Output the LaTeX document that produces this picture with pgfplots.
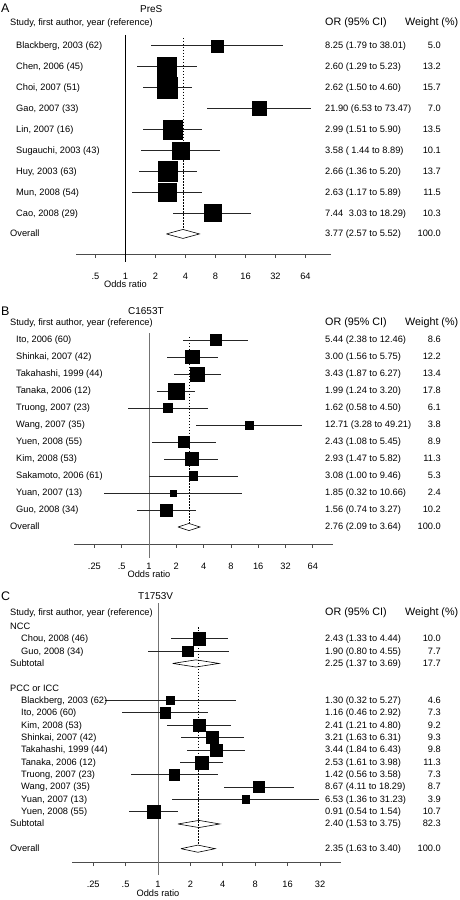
\documentclass[border=0pt]{standalone}
\usepackage{fontspec}
\setmainfont{Liberation Sans}
\usepackage{pgfplots}
\usepackage{pgfplotstable}
\pgfplotsset{compat=1.18}

% ---------- data: row, OR, lower, upper, weight ----------
\pgfplotstableread{
r or lo hi w
1 8.25 1.79 38.01 5.0
2 2.60 1.29 5.23 13.2
3 2.62 1.50 4.60 15.7
4 21.90 6.53 73.47 7.0
5 2.99 1.51 5.90 13.5
6 3.58 1.44 8.89 10.1
7 2.66 1.36 5.20 13.7
8 2.63 1.17 5.89 11.5
9 7.44 3.03 18.29 10.3
}\dataA
\pgfplotstableread{
x y
2.57 10
3.77 9.785
5.52 10
3.77 10.215
2.57 10
}\diaA

\pgfplotstableread{
r or lo hi w
1 5.44 2.38 12.46 8.6
2 3.00 1.56 5.75 12.2
3 3.43 1.87 6.27 13.4
4 1.99 1.24 3.20 17.8
5 1.62 0.58 4.50 6.1
6 12.71 3.28 49.21 3.8
7 2.43 1.08 5.45 8.9
8 2.93 1.47 5.82 11.3
9 3.08 1.00 9.46 5.3
10 1.85 0.32 10.66 2.4
11 1.56 0.74 3.27 10.2
}\dataB
\pgfplotstableread{
x y
2.09 12
2.76 11.79
3.64 12
2.76 12.21
2.09 12
}\diaB

\pgfplotstableread{
r or lo hi w
2 2.43 1.33 4.44 10.0
3 1.90 0.80 4.55 7.7
7 1.30 0.32 5.27 4.6
8 1.16 0.46 2.92 7.3
9 2.41 1.21 4.80 9.2
10 3.21 1.63 6.31 9.3
11 3.44 1.84 6.43 9.8
12 2.53 1.61 3.98 11.3
13 1.42 0.56 3.58 7.3
14 8.67 4.11 18.29 8.7
15 6.53 1.36 31.23 3.9
16 0.91 0.54 1.54 10.7
}\dataC
\pgfplotstableread{
x y
1.37 4
2.25 3.71
3.69 4
2.25 4.29
1.37 4
}\diaCa
\pgfplotstableread{
x y
1.53 17
2.40 16.71
3.75 17
2.40 17.29
1.53 17
}\diaCb
\pgfplotstableread{
x y
1.63 19
2.35 18.71
3.40 19
2.35 19.29
1.63 19
}\diaCc

% bottom axis lines and their downward ticks (x in log2 units, y in row units)
\pgfplotstableread{
x y
-1.65 -10.96
6.85 -10.96
nan nan
-1 -10.96
-1 -11.15
nan nan
0 -10.96
0 -11.15
nan nan
1 -10.96
1 -11.15
nan nan
2 -10.96
2 -11.15
nan nan
3 -10.96
3 -11.15
nan nan
4 -10.96
4 -11.15
nan nan
5 -10.96
5 -11.15
nan nan
6 -10.96
6 -11.15
}\axA
\pgfplotstableread{
x y
-2.747 -13.0
6.74 -13.0
nan nan
-2 -13.0
-2 -13.235
nan nan
-1 -13.0
-1 -13.235
nan nan
1 -13.0
1 -13.235
nan nan
2 -13.0
2 -13.235
nan nan
3 -13.0
3 -13.235
nan nan
4 -13.0
4 -13.235
nan nan
5 -13.0
5 -13.235
nan nan
6 -13.0
6 -13.235
}\axB
\pgfplotstableread{
x y
-2.654 -20.08
5.648 -20.08
nan nan
-2 -20.08
-2 -20.40
nan nan
-1 -20.08
-1 -20.40
nan nan
1 -20.08
1 -20.40
nan nan
2 -20.08
2 -20.40
nan nan
3 -20.08
3 -20.40
nan nan
4 -20.08
4 -20.40
nan nan
5 -20.08
5 -20.40
}\axC

\pgfplotsset{
  fp/.style={scale only axis, clip=false,
    axis x line*=bottom, axis y line=none, ytick=\empty,
    x axis line style={-, draw=black!70, line width=0.7pt},
    tick align=outside, major tick length=4pt,
    xtick style={draw=black!70, line width=0.7pt},
    tick label style={font=\fontsize{9.3}{11}\selectfont},
    xticklabel style={anchor=base, yshift=-21.8pt}},
  sq/.style={scatter, only marks, mark=square*, point meta=\thisrow{w},
    scatter/use mapped color={draw=black, fill=black},
    visualization depends on={#1*sqrt(\thisrow{w}) \as \ms},
    scatter/@pre marker code/.append style={/tikz/mark size=\ms},
    error bars/.cd, x dir=both, x explicit, error mark=none,
    error bar style={line width=0.7pt, black!85}},
  lg/.style={/pgfplots/table/x expr={ln(\thisrow{x})/ln(2)},
    /pgfplots/table/y expr={-\thisrow{y}}},
  ci/.style={/pgfplots/table/x expr={ln(\thisrow{or})/ln(2)},
    /pgfplots/table/y expr={-\thisrow{r}},
    /pgfplots/table/x error plus expr={ln(\thisrow{hi}/\thisrow{or})/ln(2)},
    /pgfplots/table/x error minus expr={ln(\thisrow{or}/\thisrow{lo})/ln(2)}},
  dia/.style={black, fill=white, line width=0.6pt, line join=miter},
  axl/.style={black!70, line width=0.7pt, unbounded coords=jump, mark=none, forget plot},
}

\newcommand\frow[5]{%
  \node[t] at (#2,-#1) {#3};
  \node[t] at (325,-#1) {#4};
  \node[tr] at (441,-#1) {#5};}

\begin{document}
\begin{tikzpicture}[
  t/.style={anchor=west, inner sep=0pt, text height=7.5pt, text depth=1.5pt,
    font=\fontsize{9.3}{11}\selectfont},
  tr/.style={t, anchor=east},
  th/.style={t, font=\fontsize{10.8}{12}\selectfont},
  ttl/.style={anchor=west, inner sep=0pt, font=\fontsize{12.5}{14}\selectfont},
  sub/.style={anchor=west, inner sep=0pt, font=\fontsize{10}{12}\selectfont}]

% ================= Panel A =================
\begin{axis}[fp, at={(76bp,-254bp)}, anchor=south west, width=255bp, height=220.7bp,
  xmin=-1.65, xmax=6.85, ymin=-10.96, ymax=-0.40,
  xtick={-1,0,1,2,3,4,5,6}, xticklabels={.5,1,2,4,8,16,32,64}]
\addplot[axl] table {\axA};
\addplot[black, line width=0.7pt] table[row sep=\\] {x y\\ 0 -0.48\\ 0 -11.34\\};
\addplot[black, line width=0.6pt, dash pattern=on 1.5pt off 1.5pt] table[lg, row sep=\\] {x y\\ 3.77 0.62\\ 3.77 9.785\\};
\addplot[sq=2.65] table[ci] {\dataA};
\addplot[dia] table[lg] {\diaA};
\node[anchor=base, inner sep=0pt, font=\fontsize{9.3}{11}\selectfont, yshift=-34pt] at (axis cs:0,-10.96) {Odds ratio};
\end{axis}

% ================= Panel B =================
\begin{axis}[fp, at={(74bp,-544bp)}, anchor=south west, width=259bp, height=212.5bp,
  xmin=-2.747, xmax=6.74, ymin=-13.0, ymax=-0.5,
  xtick={-2,-1,0,1,2,3,4,5,6}, xticklabels={.25,.5,1,2,4,8,16,32,64}]
\addplot[axl] table {\axB};
\addplot[black!55, line width=0.8pt] table[row sep=\\] {x y\\ 0 -0.59\\ 0 -13.82\\};
\addplot[black, line width=0.6pt, dash pattern=on 1.5pt off 1.5pt] table[lg, row sep=\\] {x y\\ 2.76 0.82\\ 2.76 11.79\\};
\addplot[sq=1.9] table[ci] {\dataB};
\addplot[dia] table[lg] {\diaB};
\node[anchor=base, inner sep=0pt, font=\fontsize{9.3}{11}\selectfont, yshift=-33.5pt] at (axis cs:0,-13.0) {Odds ratio};
\end{axis}

% ================= Panel C =================
\begin{axis}[fp, at={(72bp,-862bp)}, anchor=south west, width=269bp, height=241.8bp,
  xmin=-2.654, xmax=5.648, ymin=-20.08, ymax=-0.5,
  xtick={-2,-1,0,1,2,3,4,5}, xticklabels={.25,.5,1,2,4,8,16,32}]
\addplot[axl] table {\axC};
\addplot[black!55, line width=0.8pt] table[row sep=\\] {x y\\ 0 0.89\\ 0 -21.13\\};
\addplot[sq=1.93] table[ci] {\dataC};
\addplot[dia] table[lg] {\diaCa};
\addplot[dia] table[lg] {\diaCb};
\addplot[dia] table[lg] {\diaCc};
\addplot[black, line width=0.6pt, dash pattern=on 1.5pt off 1.5pt] table[lg, row sep=\\] {x y\\ 2.35 1.05\\ 2.35 18.71\\};
\node[anchor=base, inner sep=0pt, font=\fontsize{9.3}{11}\selectfont, yshift=-35pt] at (axis cs:0,-20.08) {Odds ratio};
\end{axis}

% ================= text columns =================
\begin{scope}[x=1bp,y=1bp]
\path (0,0) rectangle (460,-900);
% A
\node[ttl] at (1,-8.5) {A};
\node[sub] at (140,-9.5) {PreS};
\node[t] at (10,-22.5) {Study, first author, year (reference)};
\node[th] at (325,-22.5) {OR (95\% CI)};
\node[th] at (405,-22.5) {Weight (\%)};
\frow{45.9}{16}{Blackberg, 2003 (62)}{8.25 (1.79 to 38.01)}{5.0}
\frow{66.8}{16}{Chen, 2006 (45)}{2.60 (1.29 to 5.23)}{13.2}
\frow{87.7}{16}{Choi, 2007 (51)}{2.62 (1.50 to 4.60)}{15.7}
\frow{108.6}{16}{Gao, 2007 (33)}{21.90 (6.53 to 73.47)}{7.0}
\frow{129.5}{16}{Lin, 2007 (16)}{2.99 (1.51 to 5.90)}{13.5}
\frow{150.4}{16}{Sugauchi, 2003 (43)}{3.58 ( 1.44 to 8.89)}{10.1}
\frow{171.3}{16}{Huy, 2003 (63)}{2.66 (1.36 to 5.20)}{13.7}
\frow{192.2}{16}{Mun, 2008 (54)}{2.63 (1.17 to 5.89)}{11.5}
\frow{213.1}{16}{Cao, 2008 (29)}{7.44 \phantom{(}3.03 to 18.29)}{10.3}
\frow{234}{10}{Overall}{3.77 (2.57 to 5.52)}{100.0}
% B
\node[ttl] at (1,-311) {B};
\node[sub] at (128,-311) {C1653T};
\node[t] at (10,-323) {Study, first author, year (reference)};
\node[th] at (325,-323) {OR (95\% CI)};
\node[th] at (405,-323) {Weight (\%)};
\frow{340}{16}{Ito, 2006 (60)}{5.44 (2.38 to 12.46)}{8.6}
\frow{357}{16}{Shinkai, 2007 (42)}{3.00 (1.56 to 5.75)}{12.2}
\frow{374}{16}{Takahashi, 1999 (44)}{3.43 (1.87 to 6.27)}{13.4}
\frow{391}{16}{Tanaka, 2006 (12)}{1.99 (1.24 to 3.20)}{17.8}
\frow{408}{16}{Truong, 2007 (23)}{1.62 (0.58 to 4.50)}{6.1}
\frow{425}{16}{Wang, 2007 (35)}{12.71 (3.28 to 49.21)}{3.8}
\frow{442}{16}{Yuen, 2008 (55)}{2.43 (1.08 to 5.45)}{8.9}
\frow{459}{16}{Kim, 2008 (53)}{2.93 (1.47 to 5.82)}{11.3}
\frow{476}{16}{Sakamoto, 2006 (61)}{3.08 (1.00 to 9.46)}{5.3}
\frow{493}{16}{Yuan, 2007 (13)}{1.85 (0.32 to 10.66)}{2.4}
\frow{510}{16}{Guo, 2008 (34)}{1.56 (0.74 to 3.27)}{10.2}
\frow{527}{10}{Overall}{2.76 (2.09 to 3.64)}{100.0}
% C
\node[ttl] at (1,-596) {C};
\node[sub] at (138,-596) {T1753V};
\node[t] at (10,-613) {Study, first author, year (reference)};
\node[th] at (325,-613) {OR (95\% CI)};
\node[th] at (405,-613) {Weight (\%)};
\node[t] at (10,-626.35) {NCC};
\frow{638.7}{21}{Chou, 2008 (46)}{2.43 (1.33 to 4.44)}{10.0}
\frow{651.05}{21}{Guo, 2008 (34)}{1.90 (0.80 to 4.55)}{7.7}
\frow{663.4}{10}{Subtotal}{2.25 (1.37 to 3.69)}{17.7}
\node[t] at (10,-688.1) {PCC or ICC};
\frow{700.45}{21}{Blackberg, 2003 (62)}{1.30 (0.32 to 5.27)}{4.6}
\frow{712.8}{21}{Ito, 2006 (60)}{1.16 (0.46 to 2.92)}{7.3}
\frow{725.15}{21}{Kim, 2008 (53)}{2.41 (1.21 to 4.80)}{9.2}
\frow{737.5}{21}{Shinkai, 2007 (42)}{3.21 (1.63 to 6.31)}{9.3}
\frow{749.85}{21}{Takahashi, 1999 (44)}{3.44 (1.84 to 6.43)}{9.8}
\frow{762.2}{21}{Tanaka, 2006 (12)}{2.53 (1.61 to 3.98)}{11.3}
\frow{774.55}{21}{Truong, 2007 (23)}{1.42 (0.56 to 3.58)}{7.3}
\frow{786.9}{21}{Wang, 2007 (35)}{8.67 (4.11 to 18.29)}{8.7}
\frow{799.25}{21}{Yuan, 2007 (13)}{6.53 (1.36 to 31.23)}{3.9}
\frow{811.6}{21}{Yuen, 2008 (55)}{0.91 (0.54 to 1.54)}{10.7}
\frow{823.95}{10}{Subtotal}{2.40 (1.53 to 3.75)}{82.3}
\frow{848.65}{10}{Overall}{2.35 (1.63 to 3.40)}{100.0}
\end{scope}
\end{tikzpicture}
\end{document}
